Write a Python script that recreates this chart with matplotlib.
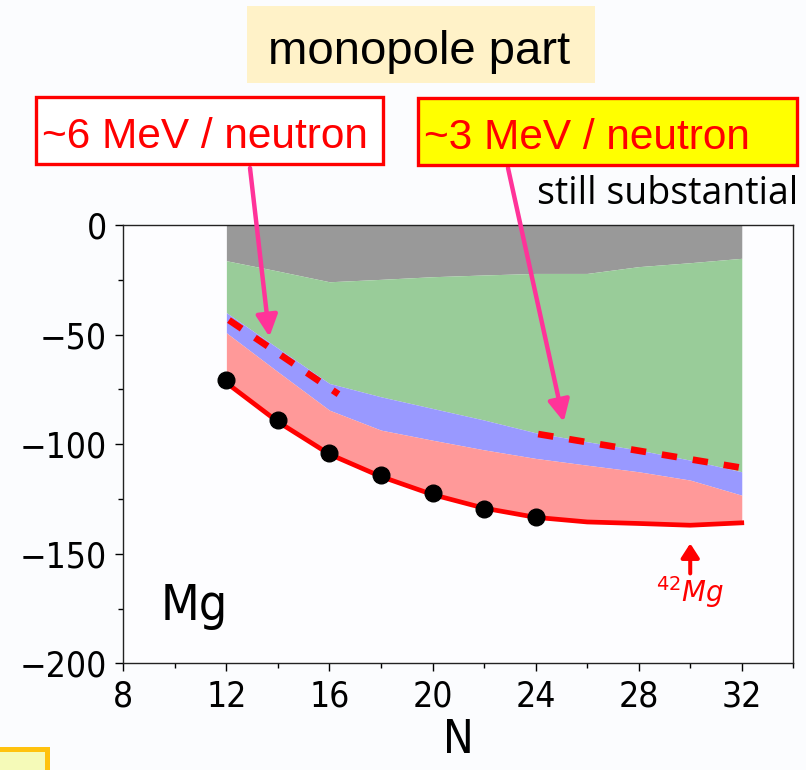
import matplotlib.pyplot as plt
from matplotlib.patches import Rectangle
from matplotlib.ticker import MultipleLocator

# energy decomposition vs neutron number, Mg isotopes
N = [12, 14, 16, 18, 20, 22, 24, 26, 28, 30, 32]
e_gray = [-16.3, -21.0, -25.9, -24.8, -23.6, -22.8, -22.1, -22.1, -19.0, -17.2, -15.2]
e_green = [-40.0, -56.2, -72.3, -78.4, -83.7, -89.0, -94.8, -98.9, -102.7, -107.3, -112.6]
e_blue = [-49.2, -67.0, -84.5, -93.6, -98.2, -102.6, -106.5, -109.6, -112.6, -116.4, -123.3]
e_total = [-72.0, -89.8, -104.6, -114.8, -123.0, -129.2, -133.4, -135.5, -136.2, -137.0, -135.9]

N_exp = [12, 14, 16, 18, 20, 22, 24]
e_exp = [-70.8, -89.0, -104.0, -114.2, -122.5, -129.4, -133.3]

# slope guides
slope1_x = [12.1, 16.35]
slope1_y = [-43.4, -77.2]
slope2_x = [24.1, 32.0]
slope2_y = [-95.4, -110.8]

W, H = 806, 770


def fx(px):
    return px / W


def fy(py):
    return 1 - py / H


def box(x0, y0, x1, y1, **kw):
    r = Rectangle((fx(x0), fy(y1)), fx(x1) - fx(x0), fy(y0) - fy(y1),
                  transform=fig.transFigure, **kw)
    fig.add_artist(r)


fig = plt.figure(figsize=(W / 100, H / 100), dpi=100, facecolor='#fbfcfe')
ax = fig.add_axes([fx(123.3), fy(663.3), fx(793.3) - fx(123.3), fy(225) - fy(663.3)])
ax.set_facecolor('#fdfdff')

ax.fill_between(N, 0, e_gray, color='#999999', lw=0)
ax.fill_between(N, e_gray, e_green, color='#99cc99', lw=0)
ax.fill_between(N, e_green, e_blue, color='#9999ff', lw=0)
ax.fill_between(N, e_blue, e_total, color='#ff9999', lw=0)
ax.plot(N, e_total, color='red', lw=3.4)
ax.plot(N_exp, e_exp, 'o', color='black', ms=12)

ax.plot(slope1_x, slope1_y, color='red', lw=4.8, dashes=(2.3, 2.4))
ax.plot(slope2_x, slope2_y, color='red', lw=4.8, dashes=(2.3, 2.4))

ax.set_xlim(8, 34)
ax.set_ylim(-200, 0)
ax.set_xticks(range(8, 33, 4))
ax.set_yticks(range(-200, 1, 50))
ax.xaxis.set_minor_locator(MultipleLocator(2))
ax.yaxis.set_minor_locator(MultipleLocator(25))
ax.tick_params(which='major', direction='out', length=6, width=1, labelsize=25.5, pad=6)
ax.tick_params(which='minor', direction='out', length=3.5, width=1)
for lab in ax.get_xticklabels() + ax.get_yticklabels():
    lab.set_fontstretch('condensed')
for s in ax.spines.values():
    s.set_linewidth(1)
    s.set_color('#222222')

ax.set_xlabel('N', fontsize=33, fontstretch='condensed', labelpad=3)
ax.text(9.43, -180.4, 'Mg', fontsize=36, fontstretch='condensed', ha='left', va='baseline')

ax.annotate('', xy=(30, -145.3), xytext=(30, -159),
            arrowprops=dict(arrowstyle='-|>,head_length=0.85,head_width=0.55',
                            color='red', lw=2.9, mutation_scale=10, shrinkA=0, shrinkB=0))
ax.text(30, -172, '$^{42}Mg$', color='red', fontsize=20, ha='center', va='baseline')

# slide annotations
box(247, 6, 595, 83, facecolor='#fff2c8', edgecolor='none')
fig.text(fx(419), fy(64), 'monopole part', fontsize=34, family='Liberation Sans',
         ha='center', va='baseline')

box(36, 97, 383, 164, facecolor='white', edgecolor='red', lw=2.4)
fig.text(fx(42), fy(148), '~6 MeV / neutron', fontsize=30.5, family='Liberation Sans',
         color='red', ha='left', va='baseline')

box(418, 98, 797, 165, facecolor='#ffff00', edgecolor='red', lw=2.4)
fig.text(fx(424), fy(149), '~3 MeV / neutron', fontsize=30.5, family='Liberation Sans',
         color='red', ha='left', va='baseline')

fig.text(fx(537), fy(204), 'still substantial', fontsize=27, family='Open Sans',
         ha='left', va='baseline')

arrow_kw = dict(arrowstyle='-|>,head_length=1.3,head_width=0.65', color='#ff3399',
                lw=3.2, mutation_scale=10, shrinkA=0, shrinkB=0)
ax.annotate('', xy=(13.67, -51.0), xytext=(250, H - 168), textcoords='figure pixels',
            arrowprops=arrow_kw, annotation_clip=False)
ax.annotate('', xy=(25.09, -89.8), xytext=(508, H - 168), textcoords='figure pixels',
            arrowprops=arrow_kw, annotation_clip=False)

box(-10, 748.5, 46.5, 790, facecolor='#f5fab8', edgecolor='#ffc20e', lw=3.6)

fig.savefig('out.png', dpi=100, facecolor=fig.get_facecolor())
